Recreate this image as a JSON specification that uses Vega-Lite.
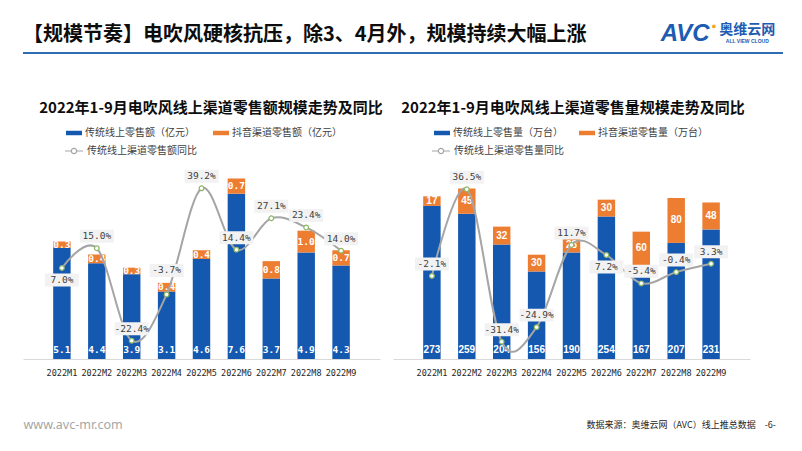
{
  "$schema": "https://vega.github.io/schema/vega-lite/v6.json",
  "background": "white",
  "padding": {"left": 22, "top": 20, "right": 0, "bottom": 0},
  "autosize": {"type": "pad"},
  "bounds": "flush",
  "spacing": 51,
  "resolve": {"scale": {"x": "independent", "y": "independent", "color": "independent", "stroke": "independent"}},
  "datasets": {
    "sales": [
      {"month": "2022M1", "series": "传统线上零售额（亿元）", "value": 5.1},
      {"month": "2022M2", "series": "传统线上零售额（亿元）", "value": 4.4},
      {"month": "2022M3", "series": "传统线上零售额（亿元）", "value": 3.9},
      {"month": "2022M4", "series": "传统线上零售额（亿元）", "value": 3.1},
      {"month": "2022M5", "series": "传统线上零售额（亿元）", "value": 4.6},
      {"month": "2022M6", "series": "传统线上零售额（亿元）", "value": 7.6},
      {"month": "2022M7", "series": "传统线上零售额（亿元）", "value": 3.7},
      {"month": "2022M8", "series": "传统线上零售额（亿元）", "value": 4.9},
      {"month": "2022M9", "series": "传统线上零售额（亿元）", "value": 4.3},
      {"month": "2022M1", "series": "抖音渠道零售额（亿元）", "value": 0.3},
      {"month": "2022M2", "series": "抖音渠道零售额（亿元）", "value": 0.4},
      {"month": "2022M3", "series": "抖音渠道零售额（亿元）", "value": 0.3},
      {"month": "2022M4", "series": "抖音渠道零售额（亿元）", "value": 0.4},
      {"month": "2022M5", "series": "抖音渠道零售额（亿元）", "value": 0.4},
      {"month": "2022M6", "series": "抖音渠道零售额（亿元）", "value": 0.7},
      {"month": "2022M7", "series": "抖音渠道零售额（亿元）", "value": 0.8},
      {"month": "2022M8", "series": "抖音渠道零售额（亿元）", "value": 1.0},
      {"month": "2022M9", "series": "抖音渠道零售额（亿元）", "value": 0.7}
    ],
    "salesYoy": [
      {"month": "2022M1", "yoy": 0.070},
      {"month": "2022M2", "yoy": 0.150},
      {"month": "2022M3", "yoy": -0.224},
      {"month": "2022M4", "yoy": -0.037},
      {"month": "2022M5", "yoy": 0.392},
      {"month": "2022M6", "yoy": 0.144},
      {"month": "2022M7", "yoy": 0.271},
      {"month": "2022M8", "yoy": 0.234},
      {"month": "2022M9", "yoy": 0.140}
    ],
    "vol": [
      {"month": "2022M1", "series": "传统线上零售量（万台）", "value": 273},
      {"month": "2022M2", "series": "传统线上零售量（万台）", "value": 259},
      {"month": "2022M3", "series": "传统线上零售量（万台）", "value": 204},
      {"month": "2022M4", "series": "传统线上零售量（万台）", "value": 156},
      {"month": "2022M5", "series": "传统线上零售量（万台）", "value": 190},
      {"month": "2022M6", "series": "传统线上零售量（万台）", "value": 254},
      {"month": "2022M7", "series": "传统线上零售量（万台）", "value": 167},
      {"month": "2022M8", "series": "传统线上零售量（万台）", "value": 207},
      {"month": "2022M9", "series": "传统线上零售量（万台）", "value": 231},
      {"month": "2022M1", "series": "抖音渠道零售量（万台）", "value": 17},
      {"month": "2022M2", "series": "抖音渠道零售量（万台）", "value": 45},
      {"month": "2022M3", "series": "抖音渠道零售量（万台）", "value": 32},
      {"month": "2022M4", "series": "抖音渠道零售量（万台）", "value": 30},
      {"month": "2022M5", "series": "抖音渠道零售量（万台）", "value": 28},
      {"month": "2022M6", "series": "抖音渠道零售量（万台）", "value": 30},
      {"month": "2022M7", "series": "抖音渠道零售量（万台）", "value": 60},
      {"month": "2022M8", "series": "抖音渠道零售量（万台）", "value": 80},
      {"month": "2022M9", "series": "抖音渠道零售量（万台）", "value": 48}
    ],
    "volYoy": [
      {"month": "2022M1", "yoy": -0.021},
      {"month": "2022M2", "yoy": 0.365},
      {"month": "2022M3", "yoy": -0.314},
      {"month": "2022M4", "yoy": -0.249},
      {"month": "2022M5", "yoy": 0.117},
      {"month": "2022M6", "yoy": 0.072},
      {"month": "2022M7", "yoy": -0.054},
      {"month": "2022M8", "yoy": -0.004},
      {"month": "2022M9", "yoy": 0.033}
    ]
  },
  "vconcat": [
    {
      "width": 760,
      "height": 99,
      "data": {"values": [{}]},
      "layer": [
        {"mark": {"type": "rule", "color": "#2E6DB4", "strokeWidth": 2},
         "encoding": {
           "x": {"datum": 0, "type": "quantitative", "scale": {"domain": [0, 100], "nice": false, "zero": false}, "axis": null},
           "x2": {"datum": 100},
           "y": {"datum": 0.667, "type": "quantitative", "scale": {"domain": [0, 1], "nice": false, "zero": false}, "axis": null}}},
        {"mark": {"type": "text", "text": "【规模节奏】电吹风硬核抗压，除3、4月外，规模持续大幅上涨", "align": "left", "baseline": "middle", "font": "Noto Sans CJK SC", "fontSize": 20, "fontWeight": "bold", "color": "#0D0D0D"},
         "encoding": {"x": {"datum": 0, "type": "quantitative"}, "y": {"datum": 0.8485, "type": "quantitative"}}},
        {"mark": {"type": "text", "text": "AVC", "align": "left", "baseline": "middle", "font": "Liberation Sans", "fontSize": 24, "fontWeight": "bold", "fontStyle": "italic", "color": "#1D5CB0"},
         "encoding": {"x": {"datum": 83.9, "type": "quantitative"}, "y": {"datum": 0.859, "type": "quantitative"}}},
        {"mark": {"type": "point", "filled": true, "color": "#F5A623", "size": 14, "opacity": 1},
         "encoding": {"x": {"datum": 90.9, "type": "quantitative"}, "y": {"datum": 0.935, "type": "quantitative"}}},
        {"mark": {"type": "text", "text": "奥维云网", "align": "left", "baseline": "middle", "font": "Noto Sans CJK SC", "fontSize": 14, "fontWeight": "bold", "color": "#1D5CB0"},
         "encoding": {"x": {"datum": 91.6, "type": "quantitative"}, "y": {"datum": 0.899, "type": "quantitative"}}},
        {"mark": {"type": "text", "text": "ALL VIEW CLOUD", "align": "center", "baseline": "middle", "font": "Liberation Sans", "fontSize": 5, "fontWeight": "bold", "color": "#1D5CB0"},
         "encoding": {"x": {"datum": 95.3, "type": "quantitative"}, "y": {"datum": 0.79, "type": "quantitative"}}},
        {"mark": {"type": "text", "text": "2022年1-9月电吹风线上渠道零售额规模走势及同比", "align": "center", "baseline": "middle", "font": "Noto Sans CJK SC", "fontSize": 15, "fontWeight": "bold", "color": "#0D0D0D"},
         "encoding": {"x": {"datum": 24.74, "type": "quantitative"}, "y": {"datum": 0.111, "type": "quantitative"}}},
        {"mark": {"type": "text", "text": "2022年1-9月电吹风线上渠道零售量规模走势及同比", "align": "center", "baseline": "middle", "font": "Noto Sans CJK SC", "fontSize": 15, "fontWeight": "bold", "color": "#0D0D0D"},
         "encoding": {"x": {"datum": 72.37, "type": "quantitative"}, "y": {"datum": 0.111, "type": "quantitative"}}}
      ]
    },
    {
      "bounds": "flush",
      "spacing": 13,
      "resolve": {"scale": {"x": "independent", "y": "independent", "color": "independent", "stroke": "independent"}},
      "hconcat": [
        {
          "width": 357,
          "height": 189,
          "encoding": {"x": {"field": "month", "type": "ordinal", "title": "www.avc-mr.com", "scale": {"paddingInner": 0.5, "paddingOuter": 0.865},
            "axis": {"labelAngle": 0, "ticks": false, "domainColor": "#D9D9D9", "labelFont": "DejaVu Sans Mono", "labelFontSize": 8.5, "labelColor": "#262626", "labelPadding": 9,
              "titleX": 0, "titleY": 65, "titleAlign": "left", "titleAnchor": "start", "titleBaseline": "middle", "titleFont": "Noto Sans", "titleFontSize": 12.5, "titleFontWeight": "normal", "titleColor": "#A6A6A6"}}},
          "resolve": {"scale": {"y": "independent"}},
          "layer": [
            {
              "data": {"name": "sales"},
              "layer": [
                {"mark": {"type": "bar"},
                 "encoding": {
                   "y": {"field": "value", "type": "quantitative", "stack": "zero", "scale": {"domain": [0, 8.69], "nice": false}, "axis": null},
                   "order": {"field": "series", "sort": "ascending"},
                   "color": {"field": "series", "type": "nominal",
                     "scale": {"domain": ["传统线上零售额（亿元）", "抖音渠道零售额（亿元）"], "range": ["#1558B0", "#ED7D31"]},
                     "legend": {"orient": "none", "legendX": 43, "legendY": -45, "direction": "horizontal", "columns": 2, "title": null, "symbolType": "M-1,-0.28H1V0.28H-1Z", "symbolSize": 256, "symbolStrokeWidth": 0, "labelFont": "Noto Sans CJK SC", "labelFontSize": 10, "labelColor": "#404040", "columnPadding": 18, "padding": 0, "labelOffset": 3}}}},
                {"transform": [{"filter": {"field": "series", "equal": "传统线上零售额（亿元）"}}],
                 "mark": {"type": "text", "dy": -9, "color": "#FFFFFF", "font": "DejaVu Sans Mono", "fontWeight": "bold", "fontSize": 9.5, "baseline": "middle"},
                 "encoding": {
                   "y": {"datum": 0, "type": "quantitative", "scale": {"domain": [0, 8.69], "nice": false}, "axis": null},
                   "text": {"field": "value", "type": "quantitative", "format": ".1f"}}},
                {"transform": [
                   {"stack": "value", "groupby": ["month"], "sort": [{"field": "series", "order": "ascending"}], "as": ["v0", "v1"]},
                   {"filter": {"field": "series", "equal": "抖音渠道零售额（亿元）"}},
                   {"fold": ["v0", "v1"], "as": ["edge", "pos"]},
                   {"aggregate": [{"op": "mean", "field": "pos", "as": "mid"}, {"op": "max", "field": "value", "as": "value"}], "groupby": ["month"]}],
                 "mark": {"type": "text", "color": "#FFFFFF", "font": "DejaVu Sans Mono", "fontWeight": "bold", "fontSize": 9.5, "baseline": "middle"},
                 "encoding": {
                   "y": {"field": "mid", "type": "quantitative", "scale": {"domain": [0, 8.69], "nice": false}, "axis": null},
                   "text": {"field": "value", "type": "quantitative", "format": ".1f"}}}
              ]
            },
            {
              "data": {"name": "salesYoy"},
              "encoding": {"y": {"field": "yoy", "type": "quantitative", "scale": {"domain": [-0.2979, 0.466], "nice": false, "zero": false}, "axis": null}},
              "layer": [
                {"mark": {"type": "line", "interpolate": "cardinal", "strokeWidth": 2},
                 "encoding": {"stroke": {"datum": "传统线上渠道零售额同比", "type": "nominal", "scale": {"range": ["#A5A5A5"]},
                   "legend": {"orient": "none", "legendX": 41, "legendY": -29, "title": null, "symbolType": "M-1,0H-0.3M0.3,0H1M-0.3,0A0.3,0.3 0 1,1 0.3,0A0.3,0.3 0 1,1 -0.3,0", "symbolSize": 324, "symbolStrokeWidth": 1.2, "symbolStrokeColor": "#A5A5A5", "symbolFillColor": "#FFFFFF", "labelFont": "Noto Sans CJK SC", "labelFontSize": 10, "labelColor": "#404040", "padding": 0, "labelOffset": 3}}}},
                {"mark": {"type": "point", "filled": true, "fill": "#FFFFFF", "stroke": "#8DB867", "strokeWidth": 1.2, "size": 22, "opacity": 1}},
                {"transform": [{"filter": {"not": {"field": "month", "oneOf": ["2022M1", "2022M4"]}}}],
                 "mark": {"type": "point", "shape": "M-1,-1.088H1V-0.324H-1Z", "filled": true, "color": "#F2F2F2", "size": 1156, "opacity": 1, "strokeWidth": 0}},
                {"transform": [{"filter": {"field": "month", "oneOf": ["2022M1"]}}],
                 "mark": {"type": "point", "shape": "M-1,0.324H1V1.088H-1Z", "filled": true, "color": "#F2F2F2", "size": 1156, "opacity": 1, "strokeWidth": 0}},
                {"transform": [{"filter": {"field": "month", "oneOf": ["2022M4"]}}],
                 "mark": {"type": "point", "shape": "M-1,-1.794H1V-1.029H-1Z", "filled": true, "color": "#F2F2F2", "size": 1156, "opacity": 1, "strokeWidth": 0}},
                {"transform": [{"filter": {"not": {"field": "month", "oneOf": ["2022M1", "2022M4"]}}}],
                 "mark": {"type": "text", "dy": -12, "baseline": "middle", "font": "DejaVu Sans Mono", "fontSize": 9.5, "color": "#404040"},
                 "encoding": {"text": {"field": "yoy", "type": "quantitative", "format": ".1%"}}},
                {"transform": [{"filter": {"field": "month", "oneOf": ["2022M1"]}}],
                 "mark": {"type": "text", "dy": 12, "baseline": "middle", "font": "DejaVu Sans Mono", "fontSize": 9.5, "color": "#404040"},
                 "encoding": {"text": {"field": "yoy", "type": "quantitative", "format": ".1%"}}},
                {"transform": [{"filter": {"field": "month", "oneOf": ["2022M4"]}}],
                 "mark": {"type": "text", "dy": -24, "baseline": "middle", "font": "DejaVu Sans Mono", "fontSize": 9.5, "color": "#404040"},
                 "encoding": {"text": {"field": "yoy", "type": "quantitative", "format": ".1%"}}}
              ]
            }
          ]
        },
        {
          "width": 357,
          "height": 189,
          "encoding": {"x": {"field": "month", "type": "ordinal", "title": "数据来源：奥维云网（AVC）线上推总数据　-6-", "scale": {"paddingInner": 0.5, "paddingOuter": 0.865},
            "axis": {"labelAngle": 0, "ticks": false, "domainColor": "#D9D9D9", "labelFont": "DejaVu Sans Mono", "labelFontSize": 8.5, "labelColor": "#262626", "labelPadding": 9,
              "titleX": 193, "titleY": 65, "titleAlign": "left", "titleAnchor": "start", "titleBaseline": "middle", "titleFont": "Noto Sans CJK SC", "titleFontSize": 9, "titleFontWeight": "normal", "titleColor": "#262626"}}},
          "resolve": {"scale": {"y": "independent"}},
          "layer": [
            {
              "data": {"name": "vol"},
              "layer": [
                {"mark": {"type": "bar"},
                 "encoding": {
                   "y": {"field": "value", "type": "quantitative", "stack": "zero", "scale": {"domain": [0, 336.9], "nice": false}, "axis": null},
                   "order": {"field": "series", "sort": "ascending"},
                   "color": {"field": "series", "type": "nominal",
                     "scale": {"domain": ["传统线上零售量（万台）", "抖音渠道零售量（万台）"], "range": ["#1558B0", "#ED7D31"]},
                     "legend": {"orient": "none", "legendX": 41, "legendY": -45, "direction": "horizontal", "columns": 2, "title": null, "symbolType": "M-1,-0.28H1V0.28H-1Z", "symbolSize": 256, "symbolStrokeWidth": 0, "labelFont": "Noto Sans CJK SC", "labelFontSize": 10, "labelColor": "#404040", "columnPadding": 16, "padding": 0, "labelOffset": 3}}}},
                {"transform": [{"filter": {"field": "series", "equal": "传统线上零售量（万台）"}}],
                 "mark": {"type": "text", "dy": -9, "color": "#FFFFFF", "font": "Liberation Sans", "fontWeight": "bold", "fontSize": 10, "baseline": "middle"},
                 "encoding": {
                   "y": {"datum": 0, "type": "quantitative", "scale": {"domain": [0, 336.9], "nice": false}, "axis": null},
                   "text": {"field": "value", "type": "quantitative", "format": "d"}}},
                {"transform": [
                   {"stack": "value", "groupby": ["month"], "sort": [{"field": "series", "order": "ascending"}], "as": ["v0", "v1"]},
                   {"filter": {"field": "series", "equal": "抖音渠道零售量（万台）"}},
                   {"fold": ["v0", "v1"], "as": ["edge", "pos"]},
                   {"aggregate": [{"op": "mean", "field": "pos", "as": "mid"}, {"op": "max", "field": "value", "as": "value"}], "groupby": ["month"]}],
                 "mark": {"type": "text", "color": "#FFFFFF", "font": "Liberation Sans", "fontWeight": "bold", "fontSize": 10, "baseline": "middle"},
                 "encoding": {
                   "y": {"field": "mid", "type": "quantitative", "scale": {"domain": [0, 336.9], "nice": false}, "axis": null},
                   "text": {"field": "value", "type": "quantitative", "format": "d"}}}
              ]
            },
            {
              "data": {"name": "volYoy"},
              "encoding": {"y": {"field": "yoy", "type": "quantitative", "scale": {"domain": [-0.3909, 0.4506], "nice": false, "zero": false}, "axis": null}},
              "layer": [
                {"mark": {"type": "line", "interpolate": "cardinal", "strokeWidth": 2},
                 "encoding": {"stroke": {"datum": "传统线上渠道零售量同比", "type": "nominal", "scale": {"range": ["#A5A5A5"]},
                   "legend": {"orient": "none", "legendX": 38, "legendY": -29, "title": null, "symbolType": "M-1,0H-0.3M0.3,0H1M-0.3,0A0.3,0.3 0 1,1 0.3,0A0.3,0.3 0 1,1 -0.3,0", "symbolSize": 324, "symbolStrokeWidth": 1.2, "symbolStrokeColor": "#A5A5A5", "symbolFillColor": "#FFFFFF", "labelFont": "Noto Sans CJK SC", "labelFontSize": 10, "labelColor": "#404040", "padding": 0, "labelOffset": 3}}}},
                {"mark": {"type": "point", "filled": true, "fill": "#FFFFFF", "stroke": "#8DB867", "strokeWidth": 1.2, "size": 22, "opacity": 1}},
                {"transform": [{"filter": {"not": {"field": "month", "oneOf": ["2022M6"]}}}],
                 "mark": {"type": "point", "shape": "M-1,-1.088H1V-0.324H-1Z", "filled": true, "color": "#F2F2F2", "size": 1156, "opacity": 1, "strokeWidth": 0}},
                {"transform": [{"filter": {"field": "month", "oneOf": ["2022M6"]}}],
                 "mark": {"type": "point", "shape": "M-1,0.324H1V1.088H-1Z", "filled": true, "color": "#F2F2F2", "size": 1156, "opacity": 1, "strokeWidth": 0}},
                {"transform": [{"filter": {"not": {"field": "month", "oneOf": ["2022M6"]}}}],
                 "mark": {"type": "text", "dy": -12, "baseline": "middle", "font": "DejaVu Sans Mono", "fontSize": 9.5, "color": "#404040"},
                 "encoding": {"text": {"field": "yoy", "type": "quantitative", "format": ".1%"}}},
                {"transform": [{"filter": {"field": "month", "oneOf": ["2022M6"]}}],
                 "mark": {"type": "text", "dy": 12, "baseline": "middle", "font": "DejaVu Sans Mono", "fontSize": 9.5, "color": "#404040"},
                 "encoding": {"text": {"field": "yoy", "type": "quantitative", "format": ".1%"}}}
              ]
            }
          ]
        }
      ]
    }
  ],
  "config": {
    "view": {"stroke": null},
    "locale": {"number": {"decimal": ".", "thousands": ",", "grouping": [3], "currency": ["", ""], "minus": "-"}}
  }
}
